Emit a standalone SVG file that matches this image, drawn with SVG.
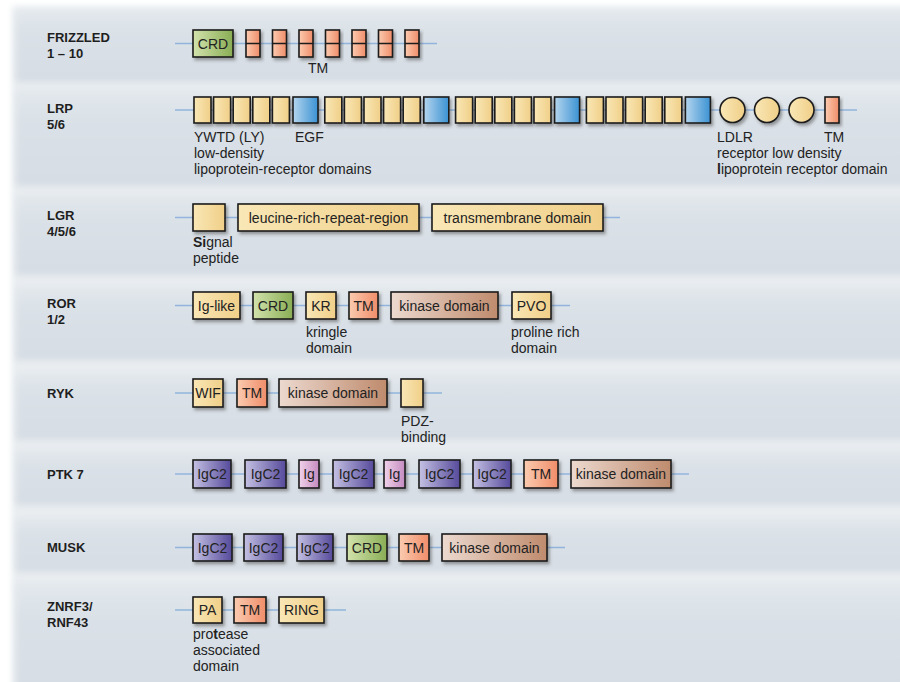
<svg xmlns="http://www.w3.org/2000/svg" width="900" height="682" viewBox="0 0 900 682">
  <defs>
    <style>
      .lbl { font-family: "Liberation Sans", Arial, sans-serif; font-size: 13px; font-weight: bold; fill: #1e1e1e; }
      .txt { font-family: "Liberation Sans", Arial, sans-serif; font-size: 14px; fill: #222; }
      .in { font-family: "Liberation Sans", Arial, sans-serif; font-size: 14px; fill: #222; text-anchor: middle; }
      .b { stroke: #1c1c1c; stroke-width: 1.6; filter: url(#shadow); }
      .conn line { stroke: #92b4dc; stroke-width: 1.3; }
      .band { filter: url(#soft); }
      .y { fill: url(#gY); }
      .g { fill: url(#gG); }
      .t { fill: url(#gT); }
      .k { fill: url(#gK); }
      .e { fill: url(#gB); }
      .p { fill: url(#gP); }
      .i { fill: url(#gI); }
    </style>
    <filter id="shadow" x="-20%" y="-20%" width="150%" height="160%">
      <feDropShadow dx="2" dy="2.5" stdDeviation="1.6" flood-color="#3a3a3a" flood-opacity="0.45"/>
    </filter>
    <filter id="soft" x="-5%" y="-20%" width="110%" height="140%">
      <feGaussianBlur stdDeviation="3"/>
    </filter>
    <linearGradient id="bandFill" x1="0" y1="0" x2="0" y2="1">
      <stop offset="0" stop-color="#e3e8ed"/>
      <stop offset="0.3" stop-color="#dae1e7"/>
      <stop offset="1" stop-color="#d6dde4"/>
    </linearGradient>
    <linearGradient id="gY" x1="0" y1="0" x2="1" y2="0">
      <stop offset="0" stop-color="#f9e7b6"/>
      <stop offset="1" stop-color="#f0cf88"/>
    </linearGradient>
    <linearGradient id="gG" x1="0" y1="0" x2="1" y2="0">
      <stop offset="0" stop-color="#d2e2ac"/>
      <stop offset="1" stop-color="#89ad54"/>
    </linearGradient>
    <linearGradient id="gT" x1="0" y1="0" x2="1" y2="0">
      <stop offset="0" stop-color="#fbcbb0"/>
      <stop offset="1" stop-color="#f08d69"/>
    </linearGradient>
    <linearGradient id="gK" x1="0" y1="0" x2="1" y2="0">
      <stop offset="0" stop-color="#ecd9cf"/>
      <stop offset="1" stop-color="#bf8b6d"/>
    </linearGradient>
    <linearGradient id="gB" x1="0" y1="0" x2="1" y2="0">
      <stop offset="0" stop-color="#b4d5ee"/>
      <stop offset="1" stop-color="#3b92d3"/>
    </linearGradient>
    <linearGradient id="gP" x1="0" y1="0" x2="1" y2="0">
      <stop offset="0" stop-color="#c4c1e3"/>
      <stop offset="1" stop-color="#564a9b"/>
    </linearGradient>
    <linearGradient id="gI" x1="0" y1="0" x2="1" y2="0">
      <stop offset="0" stop-color="#f0d2ea"/>
      <stop offset="1" stop-color="#c48bc0"/>
    </linearGradient>
  </defs>

  <!-- background and row bands -->
  <rect x="0" y="0" width="900" height="682" fill="#ffffff"/>
  <rect x="12" y="6" width="900" height="690" fill="#e9edf0" class="band"/>
  <g id="bands">
    <rect class="band" x="16" y="11" width="900" height="71" fill="url(#bandFill)"/>
    <rect class="band" x="16" y="90" width="900" height="96" fill="url(#bandFill)"/>
    <rect class="band" x="16" y="195" width="900" height="80" fill="url(#bandFill)"/>
    <rect class="band" x="16" y="287" width="900" height="73" fill="url(#bandFill)"/>
    <rect class="band" x="16" y="373" width="900" height="67" fill="url(#bandFill)"/>
    <rect class="band" x="16" y="450" width="900" height="55" fill="url(#bandFill)"/>
    <rect class="band" x="16" y="518" width="900" height="54" fill="url(#bandFill)"/>
    <rect class="band" x="16" y="583" width="900" height="110" fill="url(#bandFill)"/>
  </g>

  <!-- row labels -->
  <g id="labels">
    <text class="lbl" x="47" y="42">FRIZZLED</text>
    <text class="lbl" x="47" y="58">1 – 10</text>
    <text class="lbl" x="47" y="113">LRP</text>
    <text class="lbl" x="47" y="129">5/6</text>
    <text class="lbl" x="47" y="220">LGR</text>
    <text class="lbl" x="47" y="236">4/5/6</text>
    <text class="lbl" x="47" y="308">ROR</text>
    <text class="lbl" x="47" y="324">1/2</text>
    <text class="lbl" x="47" y="398">RYK</text>
    <text class="lbl" x="47" y="479">PTK 7</text>
    <text class="lbl" x="47" y="552">MUSK</text>
    <text class="lbl" x="47" y="611">ZNRF3/</text>
    <text class="lbl" x="47" y="627">RNF43</text>
  </g>

  <!-- backbone connectors -->
  <g id="connectors" class="conn">
    <line x1="175" y1="43.5" x2="437" y2="43.5"/>
    <line x1="175" y1="110" x2="857" y2="110"/>
    <line x1="175" y1="217.5" x2="620" y2="217.5"/>
    <line x1="175" y1="305.5" x2="570" y2="305.5"/>
    <line x1="175" y1="393" x2="442" y2="393"/>
    <line x1="175" y1="474" x2="689" y2="474"/>
    <line x1="175" y1="547.5" x2="565" y2="547.5"/>
    <line x1="175" y1="610" x2="346" y2="610"/>
  </g>

  <!-- FRIZZLED 1-10 -->
  <g id="frizzled">
    <g id="fz-crd"><rect class="b g" x="193" y="30" width="40" height="27"/><text class="in" x="213" y="48.5">CRD</text></g>
    <g id="fz-tm">
      <rect class="b t" x="246" y="30" width="14" height="27"/>
      <rect class="b t" x="272.5" y="30" width="14" height="27"/>
      <rect class="b t" x="299" y="30" width="14" height="27"/>
      <rect class="b t" x="325.5" y="30" width="14" height="27"/>
      <rect class="b t" x="352" y="30" width="14" height="27"/>
      <rect class="b t" x="378.5" y="30" width="14" height="27"/>
      <rect class="b t" x="405" y="30" width="14" height="27"/>
      <path d="M246 43.5h14M272.5 43.5h14M299 43.5h14M325.5 43.5h14M352 43.5h14M378.5 43.5h14M405 43.5h14" stroke="#1c1c1c" stroke-width="1.5"/>
      <text class="in" x="318" y="73">TM</text>
    </g>
  </g>

  <!-- LRP 5/6 -->
  <g id="lrp">
    <g id="lrp-ywtd">
      <rect class="b y" x="194" y="97" width="17" height="26"/>
      <rect class="b y" x="213.6" y="97" width="17" height="26"/>
      <rect class="b y" x="233.2" y="97" width="17" height="26"/>
      <rect class="b y" x="252.8" y="97" width="17" height="26"/>
      <rect class="b y" x="272.4" y="97" width="17" height="26"/>
      <rect class="b y" x="324.8" y="97" width="17" height="26"/>
      <rect class="b y" x="344.4" y="97" width="17" height="26"/>
      <rect class="b y" x="364" y="97" width="17" height="26"/>
      <rect class="b y" x="383.6" y="97" width="17" height="26"/>
      <rect class="b y" x="403.2" y="97" width="17" height="26"/>
      <rect class="b y" x="455.6" y="97" width="17" height="26"/>
      <rect class="b y" x="475.2" y="97" width="17" height="26"/>
      <rect class="b y" x="494.8" y="97" width="17" height="26"/>
      <rect class="b y" x="514.4" y="97" width="17" height="26"/>
      <rect class="b y" x="534" y="97" width="17" height="26"/>
      <rect class="b y" x="586.4" y="97" width="17" height="26"/>
      <rect class="b y" x="606" y="97" width="17" height="26"/>
      <rect class="b y" x="625.6" y="97" width="17" height="26"/>
      <rect class="b y" x="645.2" y="97" width="17" height="26"/>
      <rect class="b y" x="664.8" y="97" width="17" height="26"/>
    </g>
    <g id="lrp-egf">
      <rect class="b e" x="293" y="97" width="25" height="26"/>
      <rect class="b e" x="423.8" y="97" width="25" height="26"/>
      <rect class="b e" x="554.6" y="97" width="25" height="26"/>
      <rect class="b e" x="685.4" y="97" width="25" height="26"/>
    </g>
    <g id="lrp-ldlr">
      <circle class="b y" cx="732.5" cy="110" r="12.5"/>
      <circle class="b y" cx="767" cy="110" r="12.5"/>
      <circle class="b y" cx="801.5" cy="110" r="12.5"/>
    </g>
    <g id="lrp-tm"><rect class="b t" x="825" y="97" width="14" height="26"/></g>
    <text class="txt" x="194" y="142">YWTD (LY)</text>
    <text class="txt" x="194" y="158">low-density</text>
    <text class="txt" x="194" y="174">lipoprotein-receptor domains</text>
    <text class="txt" x="295" y="142">EGF</text>
    <text class="txt" x="717" y="142">LDLR</text>
    <text class="txt" x="717" y="158">receptor low density</text>
    <text class="txt" x="717" y="174"><tspan font-weight="bold">l</tspan>ipoprotein receptor domain</text>
    <text class="txt" x="824" y="142">TM</text>
  </g>

  <!-- LGR 4/5/6 -->
  <g id="lgr">
    <g id="lgr-sp"><rect class="b y" x="193" y="204" width="32" height="27"/></g>
    <g id="lgr-lrr"><rect class="b y" x="238" y="204" width="181" height="27"/><text class="in" x="328.5" y="222.5">leucine-rich-repeat-region</text></g>
    <g id="lgr-tmd"><rect class="b y" x="432" y="204" width="171" height="27"/><text class="in" x="517.5" y="222.5">transmembrane domain</text></g>
    <text class="txt" x="193" y="247"><tspan font-weight="bold">Si</tspan>gnal</text>
    <text class="txt" x="193" y="263">peptide</text>
  </g>

  <!-- ROR 1/2 -->
  <g id="ror">
    <g id="ror-ig"><rect class="b y" x="193" y="292" width="47" height="27"/><text class="in" x="216.5" y="310.5">Ig-like</text></g>
    <g id="ror-crd"><rect class="b g" x="253" y="292" width="40" height="27"/><text class="in" x="273" y="310.5">CRD</text></g>
    <g id="ror-kr"><rect class="b y" x="306" y="292" width="30" height="27"/><text class="in" x="321" y="310.5">KR</text></g>
    <g id="ror-tm"><rect class="b t" x="349" y="292" width="29" height="27"/><text class="in" x="363.5" y="310.5">TM</text></g>
    <g id="ror-kin"><rect class="b k" x="391" y="292" width="107" height="27"/><text class="in" x="444.5" y="310.5">kinase domain</text></g>
    <g id="ror-pvo"><rect class="b y" x="512" y="292" width="39" height="27"/><text class="in" x="531.5" y="310.5">PVO</text></g>
    <text class="txt" x="306" y="337">kringle</text>
    <text class="txt" x="306" y="353">domain</text>
    <text class="txt" x="511" y="337">proline rich</text>
    <text class="txt" x="511" y="353">domain</text>
  </g>

  <!-- RYK -->
  <g id="ryk">
    <g id="ryk-wif"><rect class="b y" x="193" y="379" width="30" height="28"/><text class="in" x="208" y="398">WIF</text></g>
    <g id="ryk-tm"><rect class="b t" x="237" y="379" width="30" height="28"/><text class="in" x="252" y="398">TM</text></g>
    <g id="ryk-kin"><rect class="b k" x="279" y="379" width="108" height="28"/><text class="in" x="333" y="398">kinase domain</text></g>
    <g id="ryk-pdz"><rect class="b y" x="401" y="379" width="22" height="28"/></g>
    <text class="txt" x="401" y="426">PDZ-</text>
    <text class="txt" x="401" y="442">binding</text>
  </g>

  <!-- PTK 7 -->
  <g id="ptk7">
    <g id="ptk7-igc2-1"><rect class="b p" x="193" y="460" width="38" height="28"/><text class="in" x="212" y="479">IgC2</text></g>
    <g id="ptk7-igc2-2"><rect class="b p" x="245" y="460" width="41" height="28"/><text class="in" x="265.5" y="479">IgC2</text></g>
    <g id="ptk7-ig-1"><rect class="b i" x="299" y="460" width="20" height="28"/><text class="in" x="309" y="479">Ig</text></g>
    <g id="ptk7-igc2-3"><rect class="b p" x="333" y="460" width="41" height="28"/><text class="in" x="353.5" y="479">IgC2</text></g>
    <g id="ptk7-ig-2"><rect class="b i" x="384" y="460" width="21" height="28"/><text class="in" x="394.5" y="479">Ig</text></g>
    <g id="ptk7-igc2-4"><rect class="b p" x="419" y="460" width="41" height="28"/><text class="in" x="439.5" y="479">IgC2</text></g>
    <g id="ptk7-igc2-5"><rect class="b p" x="473" y="460" width="38" height="28"/><text class="in" x="492" y="479">IgC2</text></g>
    <g id="ptk7-tm"><rect class="b t" x="524" y="460" width="34" height="28"/><text class="in" x="541" y="479">TM</text></g>
    <g id="ptk7-kin"><rect class="b k" x="571" y="460" width="100" height="28"/><text class="in" x="621" y="479">kinase domain</text></g>
  </g>

  <!-- MUSK -->
  <g id="musk">
    <g id="musk-igc2-1"><rect class="b p" x="193" y="534" width="39" height="27"/><text class="in" x="212.5" y="552.5">IgC2</text></g>
    <g id="musk-igc2-2"><rect class="b p" x="244" y="534" width="39" height="27"/><text class="in" x="263.5" y="552.5">IgC2</text></g>
    <g id="musk-igc2-3"><rect class="b p" x="297" y="534" width="36" height="27"/><text class="in" x="315" y="552.5">IgC2</text></g>
    <g id="musk-crd"><rect class="b g" x="347" y="534" width="40" height="27"/><text class="in" x="367" y="552.5">CRD</text></g>
    <g id="musk-tm"><rect class="b t" x="399" y="534" width="30" height="27"/><text class="in" x="414" y="552.5">TM</text></g>
    <g id="musk-kin"><rect class="b k" x="442" y="534" width="105" height="27"/><text class="in" x="494.5" y="552.5">kinase domain</text></g>
  </g>

  <!-- ZNRF3 / RNF43 -->
  <g id="znrf3">
    <g id="znrf3-pa"><rect class="b y" x="193" y="597" width="29" height="26"/><text class="in" x="207.5" y="615">PA</text></g>
    <g id="znrf3-tm"><rect class="b t" x="234" y="597" width="32" height="26"/><text class="in" x="250" y="615">TM</text></g>
    <g id="znrf3-ring"><rect class="b y" x="279" y="597" width="45" height="26"/><text class="in" x="301.5" y="615">RING</text></g>
    <text class="txt" x="193" y="639">pro<tspan font-weight="bold">t</tspan>ease</text>
    <text class="txt" x="193" y="655">associated</text>
    <text class="txt" x="193" y="671">domain</text>
  </g>
</svg>
